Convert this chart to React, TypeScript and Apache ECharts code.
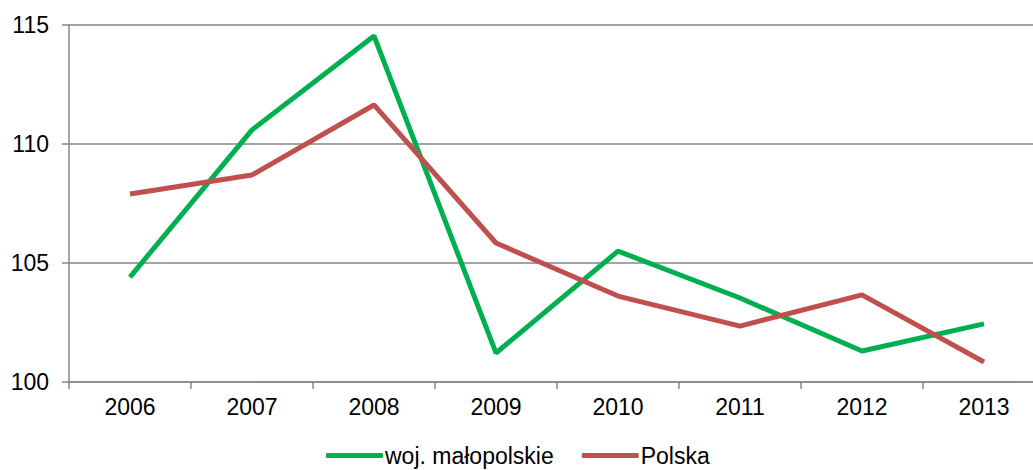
import React, { useEffect, useRef } from "react";
import * as echarts from "echarts";

const categories = ["2006", "2007", "2008", "2009", "2010", "2011", "2012", "2013"];
const malopolskie = [104.41, 110.59, 114.54, 101.22, 105.5, 103.53, 101.3, 102.44];
const polska = [107.9, 108.7, 111.64, 105.84, 103.61, 102.35, 103.66, 100.84];

export default function App() {
  const ref = useRef<HTMLDivElement>(null);
  useEffect(() => {
    if (!ref.current) return;
    const chart = echarts.init(ref.current, null, { renderer: "svg" });
    const font = "Liberation Sans, Arial, sans-serif";
    chart.setOption({
      animation: false,
      textStyle: { fontFamily: font },
      grid: { left: 69, right: 1, top: 25, bottom: 88, containLabel: false },
      legend: {
        bottom: -2,
        left: 321,
        icon: "roundRect",
        itemWidth: 57,
        itemHeight: 5,
        itemGap: 28,
        textStyle: { fontSize: 23, color: "#000", fontFamily: font, padding: [0, 0, 0, -3] },
        data: ["woj. małopolskie", "Polska"],
      },
      xAxis: {
        type: "category",
        data: categories,
        boundaryGap: true,
        axisLine: { lineStyle: { color: "#868686", width: 1.5 } },
        axisTick: { show: true, length: 7, alignWithLabel: false, lineStyle: { color: "#868686", width: 1.5 } },
        axisLabel: { fontSize: 23, color: "#000", margin: 13, fontFamily: font },
      },
      yAxis: {
        type: "value",
        min: 100,
        max: 115,
        interval: 5,
        axisLine: { show: true, lineStyle: { color: "#868686", width: 1.5 } },
        axisTick: { show: true, length: 7, lineStyle: { color: "#868686", width: 1.5 } },
        splitLine: { lineStyle: { color: "#868686", width: 1.5 } },
        axisLabel: { fontSize: 23, color: "#000", margin: 20, fontFamily: font },
      },
      series: [
        {
          name: "woj. małopolskie",
          type: "line",
          data: malopolskie,
          symbol: "none",
          lineStyle: { color: "#00B050", width: 5 },
          itemStyle: { color: "#00B050" },
        },
        {
          name: "Polska",
          type: "line",
          data: polska,
          symbol: "none",
          lineStyle: { color: "#C0504D", width: 5 },
          itemStyle: { color: "#C0504D" },
        },
      ],
    });
    return () => chart.dispose();
  }, []);
  return (
    <div
      ref={ref}
      style={{ position: "fixed", left: 0, top: 0, width: 1046, height: 470, background: "#fff" }}
    />
  );
}
